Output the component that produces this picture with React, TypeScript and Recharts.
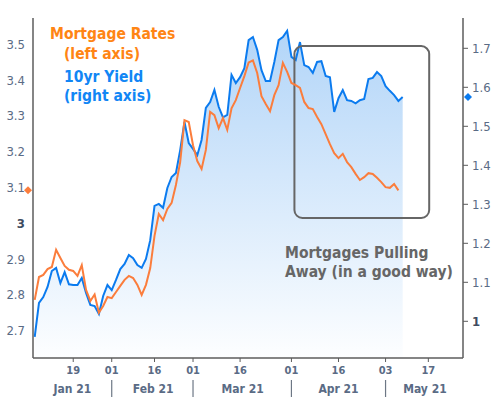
import {
  ComposedChart, Area, Line, XAxis, YAxis, ReferenceArea, ReferenceDot,
} from 'recharts';

// x = business-day index, Jan 19 2021 = 0
const START = -9;

// 10yr treasury yield (right axis), one per business day from index -9
const YIELD = [
  0.960, 1.047, 1.062, 1.088, 1.129, 1.137, 1.098, 1.126, 1.095,
  1.093, 1.093, 1.111, 1.073, 1.042, 1.039, 1.019, 1.065, 1.093, 1.080,
  1.106, 1.134, 1.147, 1.170, 1.162, 1.144, 1.137, 1.160, 1.208, 1.296,
  1.301, 1.291, 1.342, 1.370, 1.380, 1.439, 1.511, 1.457, 1.442, 1.426,
  1.465, 1.547, 1.562, 1.593, 1.550, 1.523, 1.529, 1.632, 1.611, 1.626,
  1.649, 1.721, 1.729, 1.696, 1.644, 1.616, 1.616, 1.665, 1.721, 1.729,
  1.745, 1.678, 1.670, 1.716, 1.657, 1.652, 1.637, 1.665, 1.667, 1.629,
  1.626, 1.537, 1.572, 1.593, 1.567, 1.565, 1.559, 1.567, 1.570, 1.621,
  1.624, 1.639, 1.629, 1.603, 1.591, 1.580, 1.565, 1.575,
];

// mortgage rates (left axis)
const MORTGAGE = [
  2.786, 2.850, 2.856, 2.872, 2.878, 2.926, 2.903, 2.881, 2.870,
  2.867, 2.853, 2.883, 2.814, 2.783, 2.801, 2.750, 2.769, 2.794, 2.791,
  2.808, 2.825, 2.842, 2.853, 2.847, 2.828, 2.800, 2.828, 2.875, 2.965,
  3.026, 3.009, 3.040, 3.057, 3.107, 3.171, 3.288, 3.283, 3.218, 3.174,
  3.152, 3.205, 3.311, 3.302, 3.266, 3.294, 3.261, 3.321, 3.344, 3.378,
  3.411, 3.449, 3.455, 3.420, 3.355, 3.333, 3.313, 3.358, 3.386, 3.448,
  3.423, 3.392, 3.386, 3.378, 3.339, 3.322, 3.319, 3.297, 3.277, 3.249,
  3.221, 3.196, 3.182, 3.194, 3.171, 3.157, 3.138, 3.121, 3.129, 3.140,
  3.138, 3.127, 3.115, 3.101, 3.099, 3.110, 3.092,
];

const X_DOMAIN: [number, number] = [-9.4, 91.1];
const DAY_TICKS = [0, 9, 19, 28, 39, 51, 62, 73, 83];
const DAY_LABELS = ['19', '01', '16', '01', '16', '01', '16', '03', '17'];
const MONTH_LABELS = ['Jan 21', 'Feb 21', 'Mar 21', 'Apr 21', 'May 21'];
const MONTH_CENTERS = [-0.2, 18.7, 39.6, 62.0, 82.2];
const MONTH_BOUNDS = [9, 28, 51, 73];

const LEFT_DOMAIN: [number, number] = [2.6237, 3.5735];
const LEFT_TICKS = [2.7, 2.8, 2.9, 3, 3.1, 3.2, 3.3, 3.4, 3.5];
const RIGHT_DOMAIN: [number, number] = [0.9059, 1.7777];
const RIGHT_TICKS = [1, 1.1, 1.2, 1.3, 1.4, 1.5, 1.6, 1.7];

// annotation box (left-axis units)
const BOX = { x1: 51.7, x2: 83.2, y1: 3.015, y2: 3.495 };

const rows = YIELD.map((v, i) => ({
  x: START + i,
  yield: v,
  mortgage: i < MORTGAGE.length ? MORTGAGE[i] : undefined,
}));

const FONT = "Tahoma, 'DejaVu Sans Condensed', 'Liberation Sans', sans-serif";
const FRAME = '#5c5c5c';
const TICK = '#5a6b85';
const BLUE = '#0b7bef';
const ORANGE = '#fb7d3c';

function YTick({ x, y, payload, textAnchor }: any) {
  const whole = Number.isInteger(payload.value);
  return (
    <text x={x} y={y} textAnchor={textAnchor} dominantBaseline="central"
      fontFamily={FONT} fontSize={13} fill={whole ? '#3e4b60' : TICK}
      fontWeight={whole ? 'bold' : 'normal'}>
      {String(payload.value)}
    </text>
  );
}

function MonthTick({ x, y, payload }: any) {
  const i = MONTH_CENTERS.indexOf(payload.value);
  if (i < 0) {
    return <line x1={x} x2={x} y1={y + 2} y2={y + 19} stroke="#6d7785" strokeWidth={1.2} />;
  }
  return (
    <text x={x} y={y + 11} textAnchor="middle" dominantBaseline="central"
      fontFamily={FONT} fontSize={12} fontWeight="bold" fill={TICK}>
      {MONTH_LABELS[i]}
    </text>
  );
}

const diamond = (dx: number, color: string) => (p: any) => (
  <polygon
    points={`${p.cx + dx},${p.cy - 4} ${p.cx + dx + 4},${p.cy} ${p.cx + dx},${p.cy + 4} ${p.cx + dx - 4},${p.cy}`}
    fill={color}
  />
);

const textBase = { position: 'absolute' as const, fontFamily: FONT, fontWeight: 'bold' as const, whiteSpace: 'nowrap' as const };

export default function App() {
  return (
    <div style={{ position: 'absolute', left: 0, top: 0, width: 499, height: 397, background: '#fff' }}>
      <ComposedChart width={499} height={397} data={rows} margin={{ top: 18, right: 0, bottom: 0, left: 0 }}>
        <defs>
          <linearGradient id="yieldFill" x1="0" y1="0" x2="0" y2="1">
            <stop offset="0%" stopColor="#b2d5f8" />
            <stop offset="100%" stopColor="#fdfeff" />
          </linearGradient>
        </defs>
        <XAxis xAxisId="top" orientation="top" type="number" dataKey="x" domain={X_DOMAIN}
          allowDataOverflow height={0} tick={false} tickLine={false}
          axisLine={{ stroke: FRAME, strokeWidth: 1.5 }} />
        <XAxis xAxisId="day" type="number" dataKey="x" domain={X_DOMAIN} allowDataOverflow
          ticks={DAY_TICKS} interval={0} height={20} tickSize={4} tickMargin={4}
          tickFormatter={(v: number) => DAY_LABELS[DAY_TICKS.indexOf(v)] ?? ''}
          tick={{ fontFamily: FONT, fontSize: 11, fontWeight: 'bold', fill: TICK }}
          tickLine={{ stroke: FRAME }} axisLine={{ stroke: FRAME, strokeWidth: 1.5 }} />
        <XAxis xAxisId="month" type="number" dataKey="x" domain={X_DOMAIN} allowDataOverflow
          ticks={[...MONTH_CENTERS, ...MONTH_BOUNDS]} interval={0} height={19}
          tickSize={0} tickMargin={0} axisLine={false} tickLine={false} tick={<MonthTick />} />
        <YAxis yAxisId="left" type="number" domain={LEFT_DOMAIN} allowDataOverflow
          ticks={LEFT_TICKS} interval={0} width={33} tickLine={false}
          axisLine={{ stroke: FRAME, strokeWidth: 1.5 }} tick={<YTick />} />
        <YAxis yAxisId="right" orientation="right" type="number" domain={RIGHT_DOMAIN} allowDataOverflow
          ticks={RIGHT_TICKS} interval={0} width={36} tickSize={5} tickMargin={4}
          tickLine={{ stroke: FRAME }} axisLine={{ stroke: FRAME, strokeWidth: 1.5 }} tick={<YTick />} />

        <Area xAxisId="day" yAxisId="right" dataKey="yield" type="linear"
          stroke={BLUE} strokeWidth={2} fill="url(#yieldFill)" fillOpacity={1}
          dot={false} activeDot={false} isAnimationActive={false} />
        <Line xAxisId="day" yAxisId="left" dataKey="mortgage" type="linear"
          stroke={ORANGE} strokeWidth={2} dot={false} activeDot={false} isAnimationActive={false} />

        <ReferenceArea xAxisId="day" yAxisId="left" x1={BOX.x1} x2={BOX.x2} y1={BOX.y1} y2={BOX.y2}
          ifOverflow="visible"
          shape={(p: any) => (
            <rect x={p.x} y={p.y} width={p.width} height={p.height} rx={8} ry={8}
              fill="none" stroke="#666" strokeWidth={2} />
          )} />
        <ReferenceDot xAxisId="day" yAxisId="left" x={X_DOMAIN[0]} y={MORTGAGE[MORTGAGE.length - 1]}
          ifOverflow="visible" shape={diamond(-5, ORANGE)} />
        <ReferenceDot xAxisId="day" yAxisId="right" x={X_DOMAIN[1]} y={YIELD[YIELD.length - 1]}
          ifOverflow="visible" shape={diamond(5, BLUE)} />
      </ComposedChart>

      <div style={{ ...textBase, left: 50, top: 24, fontSize: 15.5, lineHeight: '20px', color: '#ff8514' }}>
        Mortgage Rates<br /><span style={{ paddingLeft: 14 }}>(left axis)</span>
      </div>
      <div style={{ ...textBase, left: 64, top: 68, fontSize: 15.5, lineHeight: '19px', color: '#1186f5' }}>
        10yr Yield<br />(right axis)
      </div>
      <div style={{ ...textBase, left: 285, top: 244, fontSize: 15.5, lineHeight: '19px', color: '#666' }}>
        Mortgages Pulling<br />Away (in a good way)
      </div>
    </div>
  );
}
